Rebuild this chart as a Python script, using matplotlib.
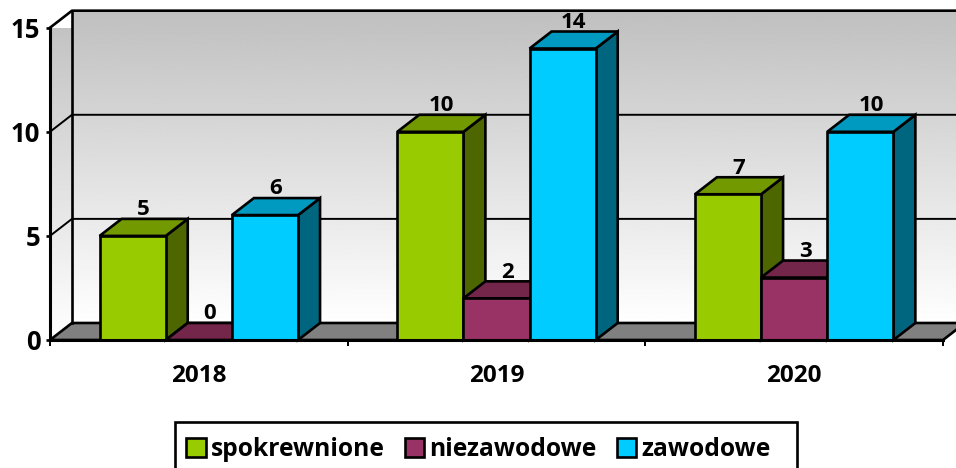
import matplotlib
matplotlib.use('Agg')
import matplotlib.pyplot as plt
import numpy as np
from matplotlib.patches import Polygon, Rectangle

years = ['2018', '2019', '2020']
spokrewnione = [5, 10, 7]
niezawodowe = [0, 2, 3]
zawodowe = [6, 14, 10]
names = ['spokrewnione', 'niezawodowe', 'zawodowe']
y_ticks = [0, 5, 10, 15]

front = ['#99CC00', '#993366', '#00CCFF']
top = ['#739900', '#732649', '#0099BF']
side = ['#4D6600', '#4D1A33', '#006680']

plt.rcParams['font.family'] = ['Open Sans', 'DejaVu Sans']
plt.rcParams['font.weight'] = 'bold'
W, H = 956, 468
lw = 1.9

fig = plt.figure(figsize=(W / 100, H / 100), dpi=100)
ax = fig.add_axes([50 / W, (H - 340) / H, (943 - 50) / W, (340 - 27.7) / H])
ax.set_xlim(-0.5, 2.5)
ax.set_ylim(0, 15)

# 3d offset of the chart, in data units
dx = 22 / 298
dy = 17 / 20.8
bar_w = 1 / 4.5

# walls
grad = np.linspace(0.75, 1, 256).reshape(-1, 1)
back = ax.imshow(grad, cmap='gray', vmin=0, vmax=1, aspect='auto', zorder=1,
                 extent=[-0.5 + dx, 2.5 + dx, dy, 15 + dy], clip_on=False)
left_wall = Polygon([(-0.5, 0), (-0.5 + dx, dy), (-0.5 + dx, 15 + dy), (-0.5, 15)],
                    closed=True, transform=ax.transData, fc='none', ec='none')
ax.add_patch(left_wall)
wall2 = ax.imshow(grad, cmap='gray', vmin=0, vmax=1, aspect='auto', zorder=1,
                  extent=[-0.5, -0.5 + dx, 0, 15 + dy])
wall2.set_clip_path(left_wall)
ax.set_xlim(-0.5, 2.5)
ax.set_ylim(0, 15)

ax.add_patch(Polygon([(-0.5, 0), (2.5, 0), (2.5 + dx, dy), (-0.5 + dx, dy)], closed=True,
                     fc='#808080', ec='black', lw=lw, zorder=2, clip_on=False))

# grid on the walls
for v in y_ticks[1:]:
    ax.plot([-0.5, -0.5 + dx, 2.5 + dx], [v, v + dy, v + dy], color='black',
            lw=lw if v == 15 else 1.4, zorder=3, clip_on=False)
ax.plot([-0.5 + dx, -0.5 + dx], [dy, 15 + dy], color='black', lw=lw, zorder=3, clip_on=False)

# bars, left to right so the next front covers the previous side
handles = []
z = 4
for j, vals in enumerate([spokrewnione, niezawodowe, zawodowe]):
    for i, v in enumerate(vals):
        x0 = i + (j - 1.5) * bar_w
        x1 = x0 + bar_w
        ax.add_patch(Polygon([(x1, 0), (x1 + dx, dy), (x1 + dx, v + dy), (x1, v)], closed=True,
                             fc=side[j], ec='black', lw=lw, zorder=z + i * 3 + j * 0.3, clip_on=False))
        ax.add_patch(Polygon([(x0, v), (x1, v), (x1 + dx, v + dy), (x0 + dx, v + dy)], closed=True,
                             fc=top[j], ec='black', lw=lw, zorder=z + i * 3 + j * 0.3, clip_on=False))
        ax.annotate(str(v), (x0 + bar_w / 2 + dx / 2, v + dy), xytext=(0, -1), textcoords='offset points',
                    ha='center', va='bottom', fontsize=16, zorder=30, annotation_clip=False)
    b = ax.bar(np.arange(3) + (j - 1) * bar_w, vals, bar_w, color=front[j], edgecolor='black',
               lw=lw, label=names[j], clip_on=False)
    for i, r in enumerate(b):
        r.set_zorder(z + i * 3 + j * 0.3 + 0.1)
    handles.append(b)

ax.set_xticks([-0.5, 0.5, 1.5, 2.5], labels=[])
ax.set_xticks([0, 1, 2], labels=years, minor=True)
ax.tick_params(axis='x', which='major', length=4.5, width=1.4, color='black')
ax.tick_params(axis='x', which='minor', length=0, pad=17, labelsize=17.5)
ax.set_yticks(y_ticks)
ax.tick_params(axis='y', length=3, width=1.9, pad=4, labelsize=18.5)
for s in ['top', 'right']:
    ax.spines[s].set_visible(False)
for s in ['left', 'bottom']:
    ax.spines[s].set_linewidth(lw + 0.3)
    ax.spines[s].set_zorder(25)

# legend box runs off the bottom of the picture
fig.add_artist(Rectangle((175 / W, -10 / H), (797 - 175) / W, (468 - 422 + 10) / H,
                         transform=fig.transFigure, fc='white', ec='black', lw=lw))
leg = fig.legend(handles=handles, labels=names, loc='lower left', bbox_to_anchor=(186 / W, 6 / H),
                 ncol=3, fontsize=17.7, frameon=False,
                 handlelength=0.8, handleheight=0.8, handletextpad=0.2, columnspacing=0.82,
                 borderaxespad=0, borderpad=0)

fig.savefig('out.png', dpi=100)
